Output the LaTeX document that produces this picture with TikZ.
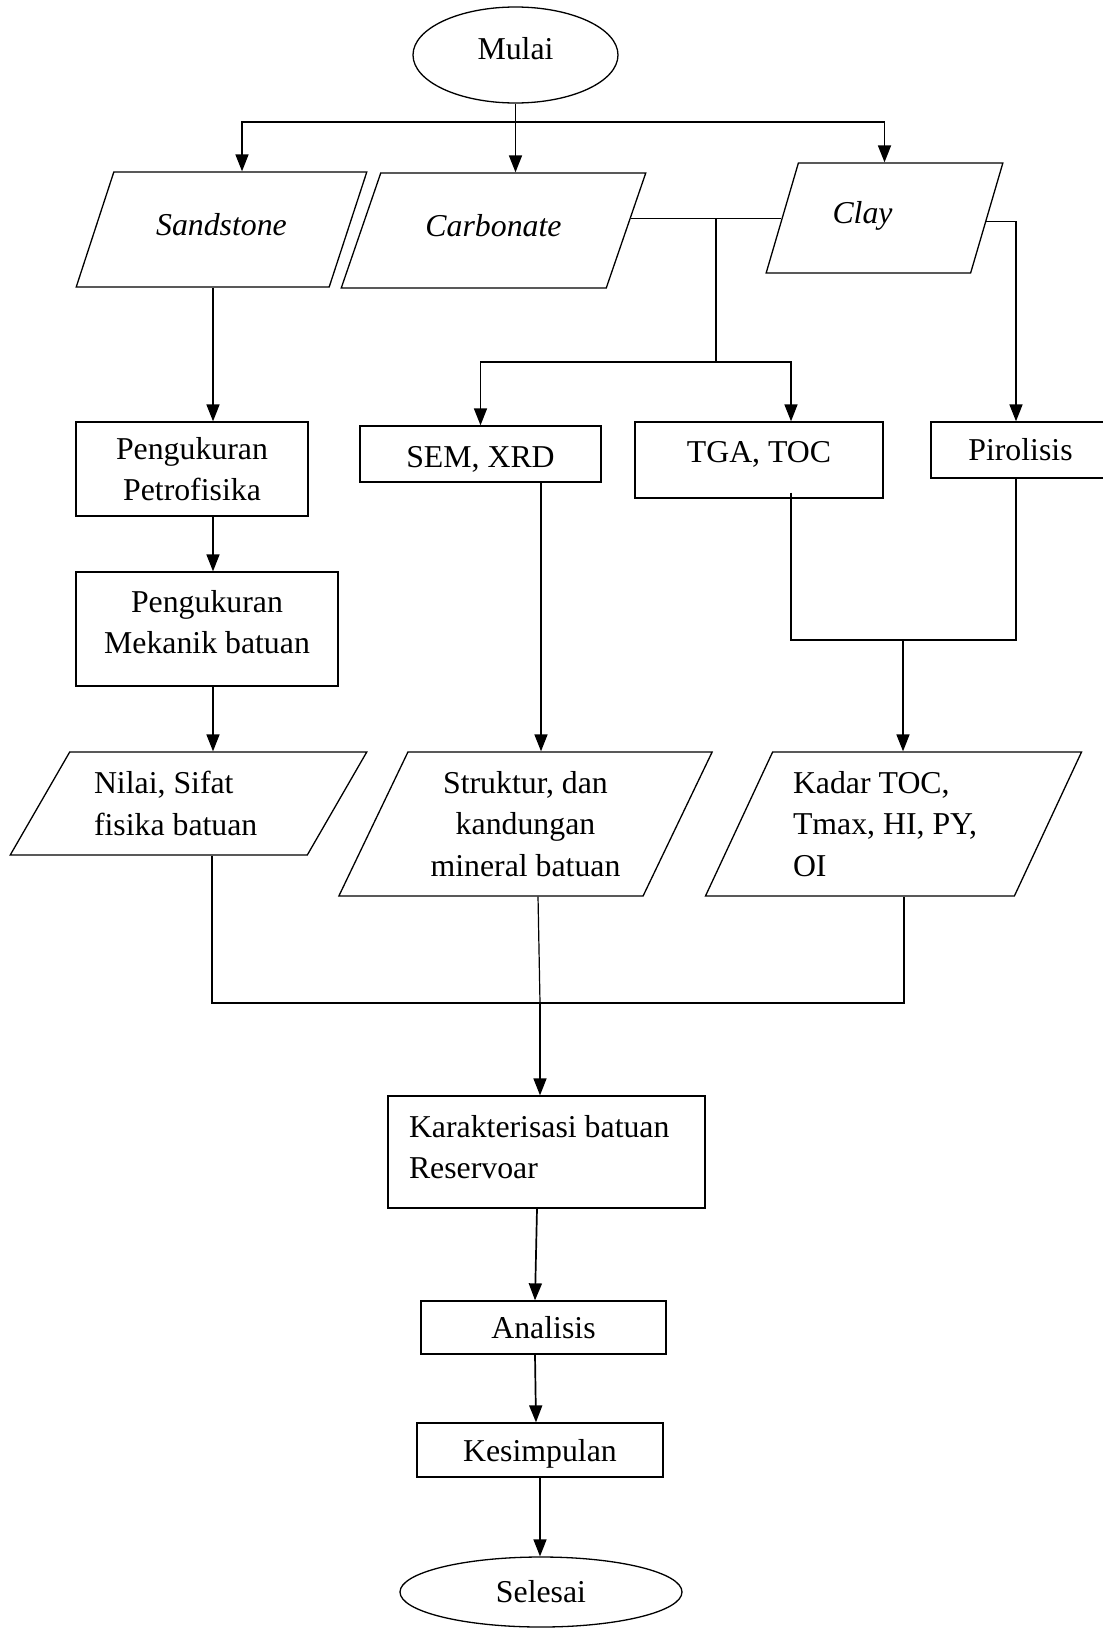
\documentclass[tikz,border=0pt]{standalone}
\usepackage{fontspec}
\setmainfont{Liberation Serif}
\usetikzlibrary{shapes.geometric, arrows.meta, calc}

\tikzset{
  terminal/.style={draw, ellipse, line width=1.3pt, inner sep=0pt},
  proses/.style={draw, rectangle, line width=1.3pt, inner sep=3pt, align=center},
  dataio/.style={draw, trapezium, trapezium stretches=true, line width=1.3pt, inner sep=2pt, align=center},
  arr/.style={line width=1.7pt, -{Triangle[length=17pt, width=13pt]}},
  garis/.style={line width=1.2pt},
}

\begin{document}
\begin{tikzpicture}[x=1pt, y=-1pt, font=\fontsize{31.8}{41.5}\selectfont]
    \useasboundingbox (0,0) rectangle (1103,1628);

    \node[terminal, minimum width=205pt, minimum height=96pt, text depth=14pt] (mulai) at (515.5,55) {Mulai};

    \node[dataio, trapezium left angle=57.6, trapezium right angle=122.4,
          minimum width=291pt, minimum height=115pt, text depth=11pt] (sandstone) at (221.5,229.5) {\textit{Sandstone}};
    \node[dataio, trapezium left angle=56.5, trapezium right angle=123.5,
          minimum width=305pt, minimum height=115pt, text depth=11pt] (carbonate) at (493.5,230.5) {\textit{Carbonate}};
    \node[dataio, trapezium left angle=61.4, trapezium right angle=118.6,
          minimum width=237pt, minimum height=110pt, text depth=11pt, text width=104pt, align=flush left] (clay) at (884.5,218) {\textit{Clay}};

    \node[proses, minimum width=232pt, minimum height=94pt] (petro) at (192,469) {Pengukuran\\Petrofisika};
    \node[proses, minimum width=262pt, minimum height=114pt, text depth=14pt] (mekanik) at (207,629) {Pengukuran\\Mekanik batuan};
    \node[proses, minimum width=241pt, minimum height=56pt, text height=27pt, text depth=0pt] (sem) at (480.5,454) {SEM, XRD};
    \node[proses, minimum width=248pt, minimum height=76pt, text depth=17pt] (tga) at (759,460) {TGA, TOC};
    \node[proses, minimum width=179pt, minimum height=56pt] (pirolisis) at (1020.5,450) {Pirolisis};

    \node[dataio, trapezium left angle=54.7, trapezium right angle=125.3,
          minimum width=357pt, minimum height=103pt, text width=189pt, align=flush left] (nilai) at (188.5,803.5) {Nilai, Sifat\\fisika batuan};
    \node[dataio, trapezium left angle=62.5, trapezium right angle=117.5,
          minimum width=375pt, minimum height=144pt] (struktur) at (525.5,824) {Struktur, dan\\kandungan\\mineral batuan};
    \node[dataio, trapezium left angle=62.5, trapezium right angle=117.5,
          minimum width=377pt, minimum height=144pt, text width=201pt, align=flush left] (kadar) at (893.5,824) {Kadar TOC,\\Tmax, HI, PY,\\OI};

    \node[proses, minimum width=317pt, minimum height=112pt, text width=275pt, align=flush left, text depth=52pt] (karakter) at (546.5,1152) {Karakterisasi batuan\\Reservoar};
    \node[proses, minimum width=245pt, minimum height=53pt] (analisis) at (543.5,1327.5) {Analisis};
    \node[proses, minimum width=246pt, minimum height=54pt, text depth=0pt] (kesimpulan) at (540,1450) {Kesimpulan};
    \node[terminal, minimum width=282pt, minimum height=70pt] (selesai) at (541,1592) {Selesai};

    \coordinate (split) at (515.5,122);
    \draw[arr] (mulai.south) -- (mulai.south |- carbonate.north);
    \draw[arr] (split) -| ([xshift=20.5pt]sandstone.north);
    \draw[arr] (split) -| (clay.north);

    \coordinate (sd) at ([xshift=-8.5pt]sandstone.south);
    \draw[arr] (sd) -- (sd |- petro.north);
    \coordinate (pd) at ([xshift=21pt]petro.south);
    \draw[arr] (pd) -- (pd |- mekanik.north);
    \coordinate (md) at ([xshift=6pt]mekanik.south);
    \draw[arr] (md) -- (md |- nilai.north);

    \coordinate (cs) at (716,362);
    \draw[garis] (carbonate.5) -- (carbonate.5 -| clay.181);
    \draw[garis] (cs) -- (cs |- carbonate.5);
    \draw[arr] (cs) -| (sem.north);
    \draw[arr] (cs) -| ([xshift=32pt]tga.north);
    \draw[arr] (clay.358) -| ([xshift=-4.5pt]pirolisis.north);

    \coordinate (sm) at ([xshift=60.5pt]sem.south);
    \draw[arr] (sm) -- (sm |- struktur.north);

    \coordinate (tj) at (903,640);
    \draw[garis] ([xshift=32pt,yshift=6pt]tga.south) |- (tj) -| ([xshift=-4.5pt]pirolisis.south);
    \draw[arr] (tj) -- (tj |- kadar.north);

    \coordinate (bj) at (540,1003);
    \draw[garis] ([xshift=23.5pt]nilai.south) |- (bj) -| ([xshift=10.5pt]kadar.south);
    \draw[garis] ([xshift=12.5pt]struktur.south) -- (bj);
    \draw[arr] (bj) -- (bj |- karakter.north);
    \draw[arr] ([xshift=-9.5pt]karakter.south) -- ([xshift=-8.5pt]analisis.north);
    \draw[arr] ([xshift=-8.5pt]analisis.south) -- ([xshift=-4pt]kesimpulan.north);
    \draw[arr] (kesimpulan.south) -- (kesimpulan.south |- selesai.north);
  \end{tikzpicture}
\end{document}
